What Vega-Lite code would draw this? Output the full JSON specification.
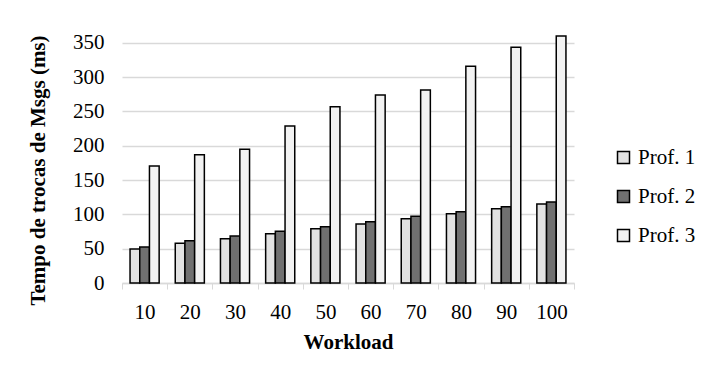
{
  "$schema": "https://vega.github.io/schema/vega-lite/v6.json",
  "width": 452,
  "height": 254,
  "autosize": {"type": "none"},
  "padding": {"left": 122, "top": 29, "right": 135, "bottom": 101},
  "background": "white",
  "config": {
    "font": "Liberation Serif",
    "view": {"stroke": null}
  },
  "data": {
    "values": [
      {"workload": "10", "series": "Prof. 1", "ms": 49.5},
      {"workload": "10", "series": "Prof. 2", "ms": 52.4},
      {"workload": "10", "series": "Prof. 3", "ms": 170.4},
      {"workload": "20", "series": "Prof. 1", "ms": 57.8},
      {"workload": "20", "series": "Prof. 2", "ms": 61.6},
      {"workload": "20", "series": "Prof. 3", "ms": 187},
      {"workload": "30", "series": "Prof. 1", "ms": 64.6},
      {"workload": "30", "series": "Prof. 2", "ms": 68.5},
      {"workload": "30", "series": "Prof. 3", "ms": 194.7},
      {"workload": "40", "series": "Prof. 1", "ms": 71.8},
      {"workload": "40", "series": "Prof. 2", "ms": 75.3},
      {"workload": "40", "series": "Prof. 3", "ms": 228.7},
      {"workload": "50", "series": "Prof. 1", "ms": 79.1},
      {"workload": "50", "series": "Prof. 2", "ms": 82},
      {"workload": "50", "series": "Prof. 3", "ms": 256.8},
      {"workload": "60", "series": "Prof. 1", "ms": 85.9},
      {"workload": "60", "series": "Prof. 2", "ms": 89.3},
      {"workload": "60", "series": "Prof. 3", "ms": 274},
      {"workload": "70", "series": "Prof. 1", "ms": 93.7},
      {"workload": "70", "series": "Prof. 2", "ms": 97.1},
      {"workload": "70", "series": "Prof. 3", "ms": 281},
      {"workload": "80", "series": "Prof. 1", "ms": 101},
      {"workload": "80", "series": "Prof. 2", "ms": 103.9},
      {"workload": "80", "series": "Prof. 3", "ms": 315.6},
      {"workload": "90", "series": "Prof. 1", "ms": 108.3},
      {"workload": "90", "series": "Prof. 2", "ms": 111.2},
      {"workload": "90", "series": "Prof. 3", "ms": 343.5},
      {"workload": "100", "series": "Prof. 1", "ms": 115},
      {"workload": "100", "series": "Prof. 2", "ms": 118},
      {"workload": "100", "series": "Prof. 3", "ms": 359.8}
    ]
  },
  "mark": {"type": "bar", "stroke": "black", "strokeWidth": 1.5, "clip": false},
  "encoding": {
    "x": {
      "field": "workload",
      "type": "ordinal",
      "sort": null,
      "scale": {"paddingInner": 0, "paddingOuter": 0},
      "axis": {
        "title": "Workload",
        "titleFontSize": 21,
        "titleFontWeight": "bold",
        "titleColor": "black",
        "titlePadding": 9,
        "labelAngle": 0,
        "labelFontSize": 21,
        "labelColor": "black",
        "labelPadding": 12,
        "tickBand": "extent",
        "tickColor": "#d9d9d9",
        "tickSize": 6,
        "domainColor": "#d9d9d9",
        "domainWidth": 1.5,
        "grid": false
      }
    },
    "xOffset": {
      "field": "series",
      "type": "nominal",
      "scale": {"paddingInner": 0, "paddingOuter": 0.83}
    },
    "y": {
      "field": "ms",
      "type": "quantitative",
      "scale": {"domain": [0, 370], "nice": false},
      "axis": {
        "title": "Tempo de trocas de Msgs (ms)",
        "titleFontSize": 21,
        "titleFontWeight": "bold",
        "titleColor": "black",
        "titleX": -84,
        "titleY": 141,
        "titleAngle": 270,
        "titleAlign": "center",
        "titleBaseline": "middle",
        "values": [0, 50, 100, 150, 200, 250, 300, 350],
        "labelFontSize": 21,
        "labelColor": "black",
        "labelPadding": 18,
        "ticks": false,
        "domain": false,
        "grid": true,
        "gridColor": "#d9d9d9",
        "gridWidth": 1.5
      }
    },
    "fill": {
      "field": "series",
      "type": "nominal",
      "scale": {"range": ["#e2e2e2", "#707070", "#f2f2f2"]},
      "legend": {
        "title": null,
        "orient": "none",
        "legendX": 491,
        "legendY": 118,
        "symbolType": "square",
        "symbolSize": 144,
        "symbolStrokeColor": "black",
        "symbolStrokeWidth": 1.5,
        "labelFontSize": 21,
        "labelColor": "black",
        "labelOffset": 4,
        "rowPadding": 17
      }
    }
  }
}
